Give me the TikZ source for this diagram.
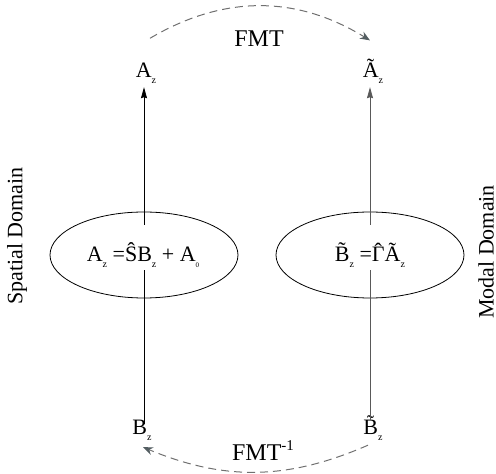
\documentclass[tikz,border=0pt]{standalone}
\usepackage{fontspec}
\setmainfont{Liberation Serif}
\usepackage{tikz}
\usetikzlibrary{positioning,arrows.meta,shapes.geometric}
\definecolor{arcgray}{RGB}{112,112,112}
\definecolor{tipgray}{RGB}{84,94,98}
\newcommand\sub[1]{\raisebox{-6pt}{\fontsize{10}{10}\selectfont #1}}
\newcommand\hatGamma{\ooalign{Γ\cr\hidewidth\raisebox{0.17em}{ˆ}\hidewidth\cr}}

\begin{document}
\begin{tikzpicture}[x=1pt,y=1pt,
  term/.style={font=\fontsize{22}{22}\selectfont,inner sep=3pt,anchor=base},
  side/.style={font=\fontsize{22}{22}\selectfont,rotate=90},
  region/.style={draw,ellipse,line width=0.8pt,minimum width=188pt,minimum height=86pt,inner sep=0pt},
  eqn/.style={fill=white,font=\fontsize{22}{22}\selectfont,inner xsep=2pt,inner ysep=2pt,
    text height=35pt,text depth=6pt,anchor=base},
  up/.style={-{Stealth[length=11pt,width=6pt,inset=1pt]},line width=0.8pt,shorten <=-7pt},
  xform/.style={-{Stealth[length=10pt,width=8pt,color=tipgray]},draw=arcgray,line width=1pt,
    dash pattern=on 8pt off 5pt}]
\useasboundingbox (0,0) rectangle (496,474);
\node[region] (spatial) at (144,219) {};
\node[region] (modal) at (370,219) {};
\node[term] (az) at (146,396) {A\sub{z}};
\node[term] (atz) at (373,396) {\~{A}\sub{z}};
\node[term] (bz) at (142,39) {B\sub{z}};
\node[term] (btz) at (373,39) {\~{B}\sub{z}};
\node[side] (spl) at (17,238) {Spatial Domain};
\node[side] (mdl) at (486,222) {Modal Domain};
\node[term,font=\fontsize{24}{24}\selectfont] (fmt) at (259,427) {FMT};
\node[term,font=\fontsize{24}{24}\selectfont] (fmti) at (263,13)
  {FMT\raisebox{10pt}{\fontsize{15}{15}\selectfont -1}};
% vertical maps
\draw[up] (bz.north -| spatial) -- (az.south -| spatial);
\draw[up,draw=black!65] (btz.north -| modal) -- (atz.south -| modal);
\node[eqn] (eqs) at (143,212) {A\sub{z} =\^{S}B\sub{z} + A\sub{\scriptsize 0}};
\node[eqn] (eqm) at (370,212) {\~{B}\sub{z} =\hatGamma\~{A}\sub{z}};
% transforms
\draw[xform] ([shift={(4pt,22pt)}]az.north) to[bend left=31] ([shift={(-3pt,16pt)}]atz.north);
\draw[xform] ([shift={(-5pt,-1pt)}]btz.south) to[bend left=23] ([shift={(1pt,-3pt)}]bz.south);
\end{tikzpicture}
\end{document}
